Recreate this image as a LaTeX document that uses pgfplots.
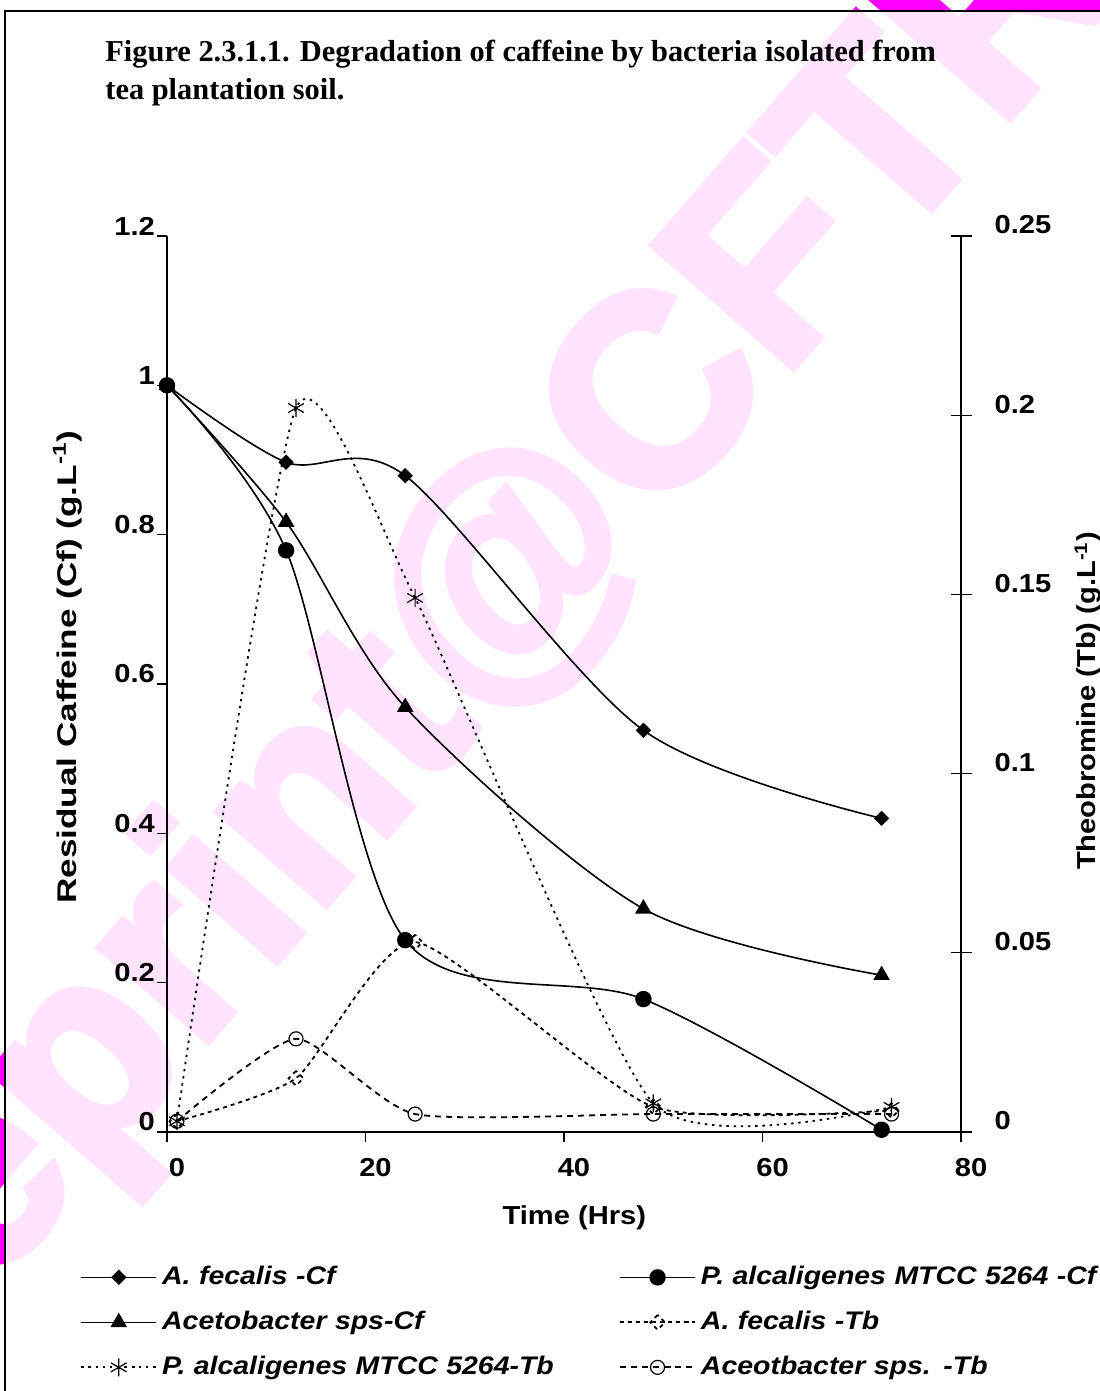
\documentclass[border=0pt]{standalone}
\usepackage{fontspec}
\setmainfont{Liberation Sans}
\newfontfamily\arl{Liberation Sans}[FakeStretch=1.12]
\newfontfamily\arlw{Liberation Sans}[FakeStretch=1.3]
\newfontfamily\tms{Liberation Serif}
\newfontfamily\wmf{Liberation Sans}[BoldFeatures={FakeBold=3}]
\usepackage{pgfplots}
\pgfplotsset{compat=1.18}
\definecolor{wm}{RGB}{255,0,255}

% 1 px of the reference = 0.5pt; picture is 549.5pt x 695.5pt
\begin{document}
\begin{tikzpicture}
\useasboundingbox (0,0) rectangle (549.5pt,695.5pt);

% watermark behind everything
\node[rotate=49, anchor=base west, inner sep=0pt, text=wm,
      font=\wmf\bfseries\fontsize{135}{135}\selectfont] at (-69.5pt,-24.5pt) {Reprint@CFTRI};
\fill[white, opacity=0.89] (2.5pt,-20pt) rectangle (600pt,690pt);
\draw[line width=1pt] (2.5pt,-20pt) -- (2.5pt,690pt) -- (600pt,690pt);

% title
\node[anchor=base west, inner sep=0pt, font=\tms\bfseries\fontsize{15.2}{17}\selectfont]
  at (52.5pt,664.5pt) {Figure 2.3.1.1. Degradation of caffeine by bacteria isolated from};
\node[anchor=base west, inner sep=0pt, font=\tms\bfseries\fontsize{15.2}{17}\selectfont]
  at (52.5pt,645.5pt) {tea plantation soil.};

\pgfplotsset{
  base/.style={
    at={(83.5pt,129.5pt)}, anchor=south west,
    scale only axis, width=397pt, height=448pt,
    xmin=0, xmax=80, clip=false,
    axis line style={line width=0.6pt},
    tick style={line width=0.6pt, black},
    tick label style={font=\arl\bfseries\fontsize{13}{15}\selectfont},
    label style={font=\arl\bfseries\fontsize{13}{15}\selectfont},
    /pgf/number format/assume math mode=true,
    /pgf/number format/fixed,
  },
  cf/.style={black, line width=0.8pt, smooth, tension=0.5},
  tb/.style={black, line width=0.9pt, smooth, tension=0.35, mark options={solid, fill=white, line width=0.6pt}},
}

% caffeine, left axis
\begin{axis}[base,
  ymin=0, ymax=1.2,
  axis x line*=bottom, axis y line*=left,
  xtick={0,20,40,60,80}, ytick={0,0.2,0.4,0.6,0.8,1,1.2},
  tick align=outside, major tick length=5pt,
  yticklabel style={yshift=5pt, xshift=2.5pt},
  xticklabel style={xshift=5pt, yshift=-4.5pt},
  xlabel={Time (Hrs)},
  ylabel={Residual Caffeine (Cf) (g.L\textsuperscript{-1})},
  xlabel style={at={(axis description cs:0.513,-0.096)}, anchor=center},
  ylabel style={at={(axis description cs:-0.1255,0.519)}, anchor=center,
    font=\arlw\bfseries\fontsize{13.5}{15}\selectfont},
  legend columns=2,
  legend cell align=left,
  legend style={at={(axis description cs:-0.1096,-0.1417)}, anchor=north west,
    draw=none, fill=none, inner sep=0pt,
    font=\arl\bfseries\itshape\fontsize{12.7}{15}\selectfont,
    nodes={inner sep=2.5pt, text width=226pt, text height=10pt, text depth=3pt},
    row sep=4.5pt},
  legend image code/.code={\draw[mark repeat=2, mark phase=2, #1]
    plot coordinates {(0pt,0pt) (18.75pt,0pt) (37.5pt,0pt)};},
]
\addplot[cf, mark=square*, mark size=2.3pt, mark options={rotate=45}] coordinates {
  (0,1.0) (12,0.897) (24,0.879) (48,0.538) (72,0.420)};
\addlegendentry{A. fecalis -Cf}
\addplot[cf, mark=*, mark size=3.7pt] coordinates {
  (0,1.0) (12,0.779) (24,0.257) (48,0.178) (72,0.003)};
\addlegendentry{P. alcaligenes MTCC 5264 -Cf}
\addplot[cf, mark=triangle*, mark size=4pt] coordinates {
  (0,1.0) (12,0.817) (24,0.569) (48,0.299) (72,0.210)};
\addlegendentry{Acetobacter sps-Cf}
\addlegendimage{tb, dash pattern=on 2pt off 2pt, mark=square, mark size=2.6pt, mark options={rotate=45}}
\addlegendentry{A. fecalis -Tb}
\addlegendimage{tb, dash pattern=on 1.2pt off 2.4pt, mark=asterisk, mark size=4.5pt}
\addlegendentry{P. alcaligenes MTCC 5264-Tb}
\addlegendimage{tb, dash pattern=on 3pt off 2.5pt, mark=o, mark size=3.5pt}
\addlegendentry{Aceotbacter sps. -Tb}
\end{axis}

% theobromine, right axis
\begin{axis}[base,
  ymin=0, ymax=0.25,
  axis x line=none, axis y line*=right,
  ytick={0,0.05,0.1,0.15,0.2,0.25},
  tick align=center, major tick length=10.5pt,
  yticklabel style={anchor=west, yshift=5.5pt, xshift=8pt},
  ylabel={Theobromine (Tb) (g.L\textsuperscript{-1})},
  ylabel style={at={(axis description cs:1.16,0.481)}, anchor=center},
]
\addplot[tb, dash pattern=on 2pt off 2pt, mark=square, mark size=2.6pt, mark options={rotate=45}] coordinates {
  (1,0.003) (13,0.015) (25,0.053) (49,0.007) (73,0.006)};
\addplot[tb, dash pattern=on 1.2pt off 2.4pt, mark=asterisk, mark size=4.5pt] coordinates {
  (1,0.003) (13,0.202) (25,0.149) (49,0.008) (73,0.007)};
\addplot[tb, dash pattern=on 3pt off 2.5pt, mark=o, mark size=3.5pt] coordinates {
  (1,0.003) (13,0.026) (25,0.005) (49,0.005) (73,0.005)};
\end{axis}
\end{tikzpicture}
\end{document}
